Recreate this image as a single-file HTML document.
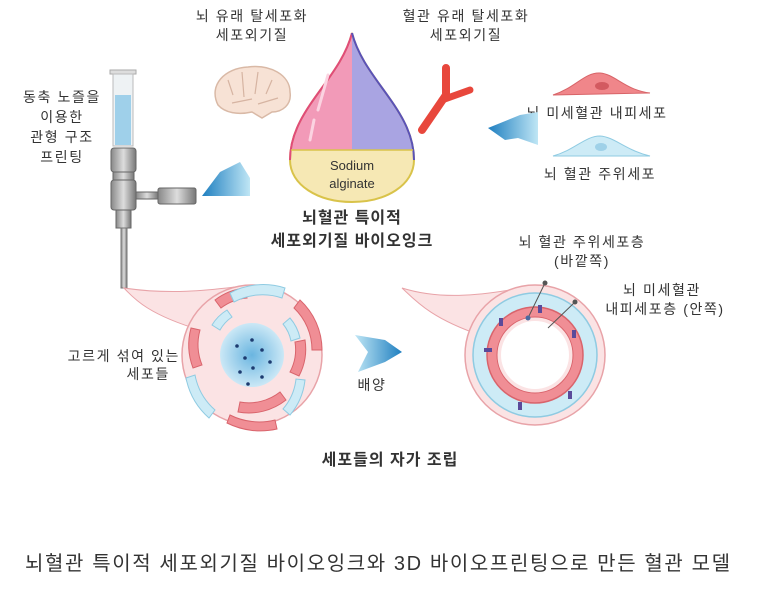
<!DOCTYPE html>
<html><head><meta charset="utf-8"><style>
html,body{margin:0;padding:0;background:#fff;}
svg{display:block;}
text{font-family:"Liberation Sans","Noto Sans CJK KR",sans-serif;fill:#333;}
.l{font-size:14px;letter-spacing:1.6px;}
</style></head><body>
<svg width="758" height="600" viewBox="0 0 758 600" xmlns="http://www.w3.org/2000/svg">
<defs>
<linearGradient id="ar" x1="0" x2="1"><stop offset="0" stop-color="#1f7fc0"/><stop offset="1" stop-color="#bfe6f5"/></linearGradient>
<linearGradient id="ar2" x1="0" x2="1"><stop offset="0" stop-color="#bfe6f5"/><stop offset="1" stop-color="#1f7fc0"/></linearGradient>
<radialGradient id="core"><stop offset="0" stop-color="#6ab5e0"/><stop offset="1" stop-color="#cbe8f6"/></radialGradient>
<linearGradient id="metal" x1="0" x2="1"><stop offset="0" stop-color="#888"/><stop offset="0.5" stop-color="#ddd"/><stop offset="1" stop-color="#777"/></linearGradient>
<clipPath id="drop"><path d="M352,33 C340,80 290,110 290,160 C290,185 318,202 352,202 C386,202 414,185 414,160 C414,110 364,80 352,33Z"/></clipPath>
</defs>

<text x="252" y="21" class="l" text-anchor="middle">뇌 유래 탈세포화</text>
<text x="252" y="40" class="l" text-anchor="middle">세포외기질</text>
<text x="466" y="21" class="l" text-anchor="middle">혈관 유래 탈세포화</text>
<text x="466" y="40" class="l" text-anchor="middle">세포외기질</text>

<path d="M218,105 C208,85 225,68 248,67 C270,64 290,75 290,92 C292,105 282,112 272,112 L262,118 L252,112 C238,115 225,113 218,105Z" fill="#f7e2d5" stroke="#d9b9a6" stroke-width="1.5"/>
<path d="M228,80 l5,15 M242,72 l2,25 M258,72 l-3,22 M272,80 l-6,14 M232,103 l20,-4 M258,104 l20,-6" stroke="#d6b4a2" stroke-width="1.2" fill="none"/>

<g clip-path="url(#drop)">
<rect x="280" y="25" width="72" height="125" fill="#f29ab8"/>
<rect x="352" y="25" width="72" height="125" fill="#a9a4e2"/>
<rect x="280" y="150" width="144" height="60" fill="#f6e8b4"/>
</g>
<path d="M352,33 C340,80 290,110 290,160 C290,185 318,202 352,202 C386,202 414,185 414,160 C414,110 364,80 352,33Z" fill="none" stroke="#d9c34a" stroke-width="2"/>
<path d="M352,33 C340,80 290,110 290,160" fill="none" stroke="#e04b7a" stroke-width="2"/>
<path d="M352,33 C364,80 414,110 414,160" fill="none" stroke="#5a52b8" stroke-width="2"/>
<line x1="291" y1="150" x2="413" y2="150" stroke="#d9c34a" stroke-width="1.5"/>
<path d="M310,140 l4,-20 M318,110 l10,-35" stroke="#fbd3e1" stroke-width="3" stroke-linecap="round"/>
<text x="352" y="170" font-size="13" text-anchor="middle" fill="#222">Sodium</text>
<text x="352" y="188" font-size="13" text-anchor="middle" fill="#222">alginate</text>
<text x="352" y="223" font-size="16" font-weight="bold" letter-spacing="1" text-anchor="middle" fill="#111">뇌혈관 특이적</text>
<text x="352" y="246" font-size="16" font-weight="bold" letter-spacing="1" text-anchor="middle" fill="#111">세포외기질 바이오잉크</text>

<path d="M422,130 L446,95 L446,68" stroke="#e8473c" stroke-width="8" stroke-linecap="round" fill="none"/>
<path d="M442,100 L470,90" stroke="#e8473c" stroke-width="7" stroke-linecap="round" fill="none"/>

<path d="M553,95 C575,88 585,72 600,73 C615,74 625,90 650,93 Z" fill="#f0868a" stroke="#d86468"/>
<ellipse cx="602" cy="86" rx="7" ry="4" fill="#d35a60"/>
<text x="597" y="118" class="l" text-anchor="middle">뇌 미세혈관 내피세포</text>
<path d="M553,156 C575,150 585,136 600,136 C615,137 625,150 650,156 Z" fill="#cdebf6" stroke="#8fcbe2"/>
<ellipse cx="601" cy="147" rx="6" ry="4" fill="#9fd1e8"/>
<text x="600" y="179" class="l" text-anchor="middle">뇌 혈관 주위세포</text>

<path d="M488,128 L520,115 L538,112 L538,145 L518,138 L505,140Z" fill="url(#ar)"/>
<path d="M202,196 L220,172 L240,162 L250,178 L250,196Z" fill="url(#ar)"/>
<path d="M355,335 L385,340 L402,352 L385,362 L358,372 L368,352Z" fill="url(#ar2)"/>
<text x="372" y="390" class="l" text-anchor="middle">배양</text>

<text x="62" y="102" class="l" text-anchor="middle">동축 노즐을</text>
<text x="62" y="122" class="l" text-anchor="middle">이용한</text>
<text x="62" y="142" class="l" text-anchor="middle">관형 구조</text>
<text x="62" y="162" class="l" text-anchor="middle">프린팅</text>
<rect x="110" y="70" width="26" height="4" fill="#ddd" stroke="#aaa"/>
<rect x="113" y="74" width="20" height="72" fill="#eef2f4" stroke="#bbb"/>
<rect x="115" y="95" width="16" height="50" fill="#9fd0ea"/>
<rect x="111" y="148" width="25" height="24" rx="3" fill="url(#metal)" stroke="#666"/>
<rect x="113" y="172" width="21" height="8" fill="url(#metal)" stroke="#666"/>
<rect x="111" y="180" width="25" height="30" rx="3" fill="url(#metal)" stroke="#666"/>
<rect x="136" y="192" width="22" height="7" fill="url(#metal)" stroke="#666"/>
<rect x="158" y="188" width="38" height="16" rx="2" fill="url(#metal)" stroke="#666"/>
<rect x="116" y="210" width="15" height="18" fill="url(#metal)" stroke="#666"/>
<rect x="121" y="228" width="6" height="60" fill="url(#metal)" stroke="#777"/>

<path d="M124,288 C135,300 150,315 200,330 L235,287 C210,290 170,295 124,288Z" fill="#fbe3e4" stroke="#e8a3a8"/>
<circle cx="252" cy="355" r="70" fill="#fbe3e4" stroke="#e8a3a8" stroke-width="1.5"/>
<g fill="#f08e95" stroke="#d9646c">
<path d="M300,300 a68,68 0 0 1 22,50 l-10,0 a58,58 0 0 0 -18,-42z"/>
<path d="M215,300 a60,60 0 0 1 30,-12 l2,10 a50,50 0 0 0 -26,10z"/>
<path d="M200,330 a55,55 0 0 0 2,35 l-9,3 a65,65 0 0 1 -2,-40z"/>
<path d="M240,402 a50,50 0 0 0 40,-10 l6,8 a60,60 0 0 1 -48,12z"/>
<path d="M230,415 a65,65 0 0 0 45,5 l2,9 a75,75 0 0 1 -50,-6z"/>
<path d="M290,372 a48,48 0 0 0 5,-30 l10,-2 a58,58 0 0 1 -6,36z"/>
</g>
<g fill="#cdebf6" stroke="#8fcbe2">
<path d="M230,293 a70,70 0 0 1 55,-5 l-3,10 a60,60 0 0 0 -48,4z"/>
<path d="M195,375 a62,62 0 0 0 20,35 l-6,8 a72,72 0 0 1 -23,-40z"/>
<path d="M305,380 a65,65 0 0 1 -15,35 l-7,-6 a55,55 0 0 0 13,-30z"/>
<path d="M290,318 a45,45 0 0 1 10,20 l-9,3 a38,38 0 0 0 -8,-17z"/>
<path d="M212,325 a45,45 0 0 1 15,-15 l5,7 a38,38 0 0 0 -12,13z"/>
</g>
<circle cx="252" cy="355" r="32" fill="url(#core)"/>
<g fill="#1d3b70"><circle cx="252" cy="340" r="1.8"/><circle cx="237" cy="346" r="1.8"/><circle cx="262" cy="350" r="1.8"/><circle cx="245" cy="358" r="1.8"/><circle cx="270" cy="362" r="1.8"/><circle cx="253" cy="368" r="1.8"/><circle cx="240" cy="372" r="1.8"/><circle cx="262" cy="377" r="1.8"/><circle cx="248" cy="384" r="1.8"/></g>
<text x="180" y="361" class="l" text-anchor="end">고르게 섞여 있는</text>
<text x="170" y="379" class="l" text-anchor="end">세포들</text>

<path d="M402,288 C415,300 430,318 480,335 L510,290 C480,295 440,300 402,288Z" fill="#fbe3e4" stroke="#e8a3a8"/>
<circle cx="535" cy="355" r="70" fill="#fbe3e4" stroke="#e8a3a8" stroke-width="1.5"/>
<circle cx="535" cy="355" r="62" fill="#cdebf6" stroke="#8fcbe2" stroke-width="1.5"/>
<circle cx="535" cy="355" r="48" fill="#f08e95" stroke="#d9646c" stroke-width="1.5"/>
<circle cx="535" cy="355" r="38" fill="#fbe3e4" stroke="#d9646c"/>
<circle cx="535" cy="355" r="34" fill="#fff"/>
<g fill="#5a4a9a"><rect x="499" y="318" width="4" height="8"/><rect x="572" y="330" width="4" height="8"/><rect x="538" y="305" width="4" height="8"/><rect x="484" y="348" width="8" height="4"/><rect x="568" y="391" width="4" height="8"/><rect x="518" y="402" width="4" height="8"/></g>
<line x1="528" y1="318" x2="545" y2="283" stroke="#555"/>
<circle cx="545" cy="283" r="2.5" fill="#555"/><circle cx="528" cy="318" r="2.5" fill="#4a6aa0"/>
<line x1="548" y1="328" x2="575" y2="302" stroke="#555"/>
<circle cx="575" cy="302" r="2.5" fill="#555"/>
<text x="582" y="247" class="l" text-anchor="middle">뇌 혈관 주위세포층</text>
<text x="582" y="266" class="l" text-anchor="middle">(바깥쪽)</text>
<text x="662" y="295" class="l" text-anchor="middle">뇌 미세혈관</text>
<text x="665" y="314" class="l" text-anchor="middle">내피세포층 (안쪽)</text>

<text x="390" y="465" font-size="16" font-weight="bold" letter-spacing="1" text-anchor="middle" fill="#111">세포들의 자가 조립</text>

<text x="25" y="570" font-size="20" textLength="705" lengthAdjust="spacing" fill="#222">뇌혈관 특이적 세포외기질 바이오잉크와 3D 바이오프린팅으로 만든 혈관 모델</text>
</svg>
</body></html>
